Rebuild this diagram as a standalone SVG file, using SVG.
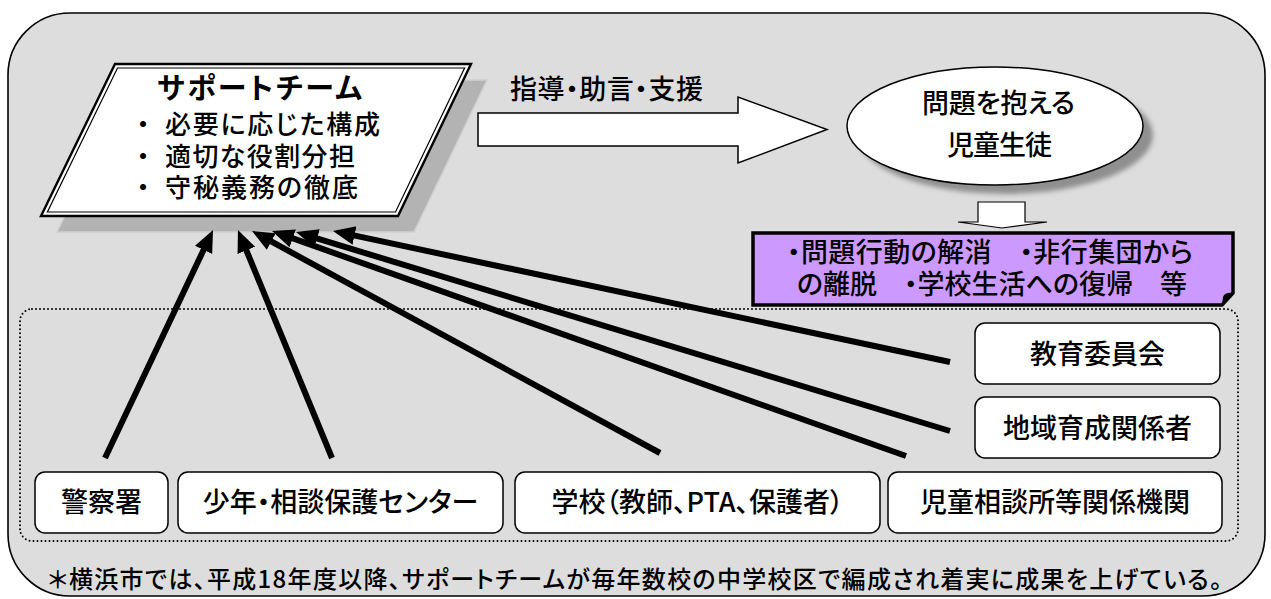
<svg xmlns="http://www.w3.org/2000/svg" width="1271" height="599" viewBox="0 0 1271 599">
<style>
text{font-family:"Noto Sans CJK JP","Noto Sans CJK SC",sans-serif;font-feature-settings:"palt";fill:#000;font-weight:500}
.t27{font-size:27px}
.t26{font-size:26px}
.mid{text-anchor:middle}
.title{font-size:29px;font-weight:bold}
.box{fill:#fff;stroke:#000;stroke-width:1.5}
.conn{stroke:#000;stroke-width:6;fill:none;marker-end:url(#ah)}
</style>
<defs>
<marker id="ah" markerUnits="userSpaceOnUse" markerWidth="24" markerHeight="22" viewBox="0 -11 24 22" refX="8" refY="0" orient="auto"><path d="M0,-9.5 L22,0 L0,9.5 z" fill="#000"/></marker>
<filter id="blur" x="-20%" y="-20%" width="140%" height="140%"><feGaussianBlur stdDeviation="2.5"/></filter>
</defs>

<g id="frame">
<rect x="8" y="13" width="1257" height="583" rx="62" ry="62" fill="#dddddd" stroke="#000" stroke-width="1.6"/>
<rect x="20" y="309" width="1218" height="232" rx="12" ry="12" fill="none" stroke="#000" stroke-width="2" stroke-dasharray="0 4" stroke-linecap="round"/>
</g>

<g id="support-team">
<polygon points="131,80 487,80 414,232 57,232" fill="#b3b3b3" stroke="#cfcfcf" stroke-width="1.5"/>
<polygon points="115,64 471,64 398,216 41,216" fill="#fff" stroke="#000" stroke-width="2.4"/>
<polygon points="117.5,68 464.6,68 395.5,212 47.4,212" fill="none" stroke="#000" stroke-width="1.2"/>
<text x="259.5" y="99" class="title mid" textLength="205">サポートチーム</text>
<text x="143" y="134" class="t26 mid">・</text>
<text x="165" y="134" class="t26" textLength="215">必要に応じた構成</text>
<text x="143" y="166" class="t26 mid">・</text>
<text x="165" y="166" class="t26" textLength="190">適切な役割分担</text>
<text x="143" y="197" class="t26 mid">・</text>
<text x="165" y="197" class="t26" textLength="193">守秘義務の徹底</text>
</g>

<g id="guidance-arrow">
<polygon points="478,113 738,113 738,97 827,129.5 738,163 738,146 478,146" fill="#fff" stroke="#000" stroke-width="1.5"/>
<text x="510" y="99" class="t27" textLength="193">指導・助言・支援</text>
</g>

<g id="student">
<ellipse cx="1005" cy="135" rx="148" ry="59" fill="#8f8f8f" filter="url(#blur)"/>
<ellipse cx="995" cy="126" rx="148" ry="59" fill="#fff" stroke="#000" stroke-width="1.5"/>
<text x="998.5" y="113" class="t27 mid" textLength="153">問題を抱える</text>
<text x="999.5" y="155" class="t27 mid" textLength="105">児童生徒</text>
</g>

<g id="down-arrow">
<polygon points="978,202 1025,202 1025,222 1047,222 1002,228 958,222 978,222" fill="#fff" stroke="#000" stroke-width="1.2"/>
</g>

<g id="outcome">
<path d="M753,233 H1233 V293 L1222,305 H753 Z" fill="#cc99ff" stroke="#000" stroke-width="3.5" stroke-linejoin="miter"/>
<path d="M1233,293 Q1225,292 1223,297 L1222,305 Z" fill="#000"/>
<text x="787" y="262" class="t27" textLength="406">・問題行動の解消　・非行集団から</text>
<text x="797" y="294" class="t27" textLength="390">の離脱　・学校生活への復帰　等</text>
</g>

<g id="board">
<rect x="975" y="323" width="245" height="61" rx="10" class="box"/>
<text x="1097.5" y="364" class="t27 mid">教育委員会</text>
</g>
<g id="community">
<rect x="975" y="397" width="245" height="61" rx="10" class="box"/>
<text x="1097.5" y="438" class="t27 mid">地域育成関係者</text>
</g>
<g id="police">
<rect x="35" y="472" width="133" height="61" rx="10" class="box"/>
<text x="101.5" y="512" class="t27 mid">警察署</text>
</g>
<g id="youth-center">
<rect x="178" y="472" width="325" height="61" rx="10" class="box"/>
<text x="340.5" y="512" class="t27 mid">少年・相談保護センター</text>
</g>
<g id="school">
<rect x="515" y="472" width="365" height="61" rx="10" class="box"/>
<text x="697.5" y="512" class="t27 mid">学校（教師、PTA、保護者）</text>
</g>
<g id="child-guidance">
<rect x="888" y="472" width="334" height="61" rx="10" class="box"/>
<text x="1055" y="512" class="t27 mid">児童相談所等関係機関</text>
</g>

<g id="connectors">
<line x1="105" y1="458" x2="207" y2="242.7" class="conn"/>
<line x1="332" y1="458" x2="243.3" y2="242.9" class="conn"/>
<line x1="660" y1="453" x2="264.3" y2="237.7" class="conn"/>
<line x1="906" y1="456" x2="285.2" y2="235.7" class="conn"/>
<line x1="950" y1="431" x2="309.4" y2="236.1" class="conn"/>
<line x1="950" y1="362" x2="346.7" y2="233.9" class="conn"/>
</g>

<g id="footnote">
<text x="48" y="588" font-size="24" textLength="1174">＊横浜市では、平成18年度以降、サポートチームが毎年数校の中学校区で編成され着実に成果を上げている。</text>
</g>
</svg>
